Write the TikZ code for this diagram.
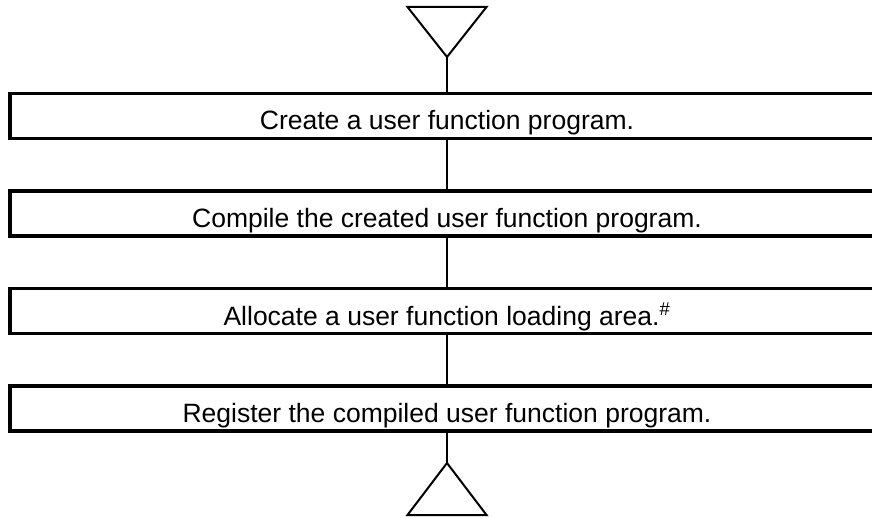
\documentclass[tikz,border=0pt]{standalone}
\usepackage{fontspec}
\setmainfont{Liberation Sans}
\usepackage{tikz}
\usetikzlibrary{positioning}
\tikzset{
  stepnode/.style = {align=center, inner sep=0pt, text centered,
    font=\fontsize{26.5}{30}\selectfont},
  step_box/.style = {stepnode, rectangle, draw=black, line width=3.5pt,
    minimum width=874.5pt, minimum height=45pt,
    text height=28pt, text depth=0pt},% etape du traitement
  flow_line/.style = {draw=black, line width=2pt},% liaison entre etapes
  term_mark/.style = {draw=black, line width=2pt, line join=miter}% debut, fin
}

\begin{document}
\begin{tikzpicture}[x=1pt, y=-1pt]
      \useasboundingbox (0,0) rectangle (872,518);
      \node [step_box] (create) at (447,116) {Create a user function program.};
      \node [step_box, below=49pt of create] (compile) {Compile the created user function program.};
      \node [step_box, below=49pt of compile] (alloc) {Allocate a user function loading area.\textsuperscript{\#}};
      \node [step_box, below=49pt of alloc] (register) {Register the compiled user function program.};
      \coordinate (start) at (447,57);
      \coordinate (stop) at (447,463);
      \draw [term_mark] (start) -- ++(-39.5,-50) -- ++(79,0) -- cycle;
      \draw [term_mark] (stop) -- ++(-39.5,52) -- ++(79,0) -- cycle;
      \draw [flow_line] (start) -- (create);
      \draw [flow_line] (create) -- (compile);
      \draw [flow_line] (compile) -- (alloc);
      \draw [flow_line] (alloc) -- (register);
      \draw [flow_line] (register) -- (stop);
\end{tikzpicture}
\end{document}
